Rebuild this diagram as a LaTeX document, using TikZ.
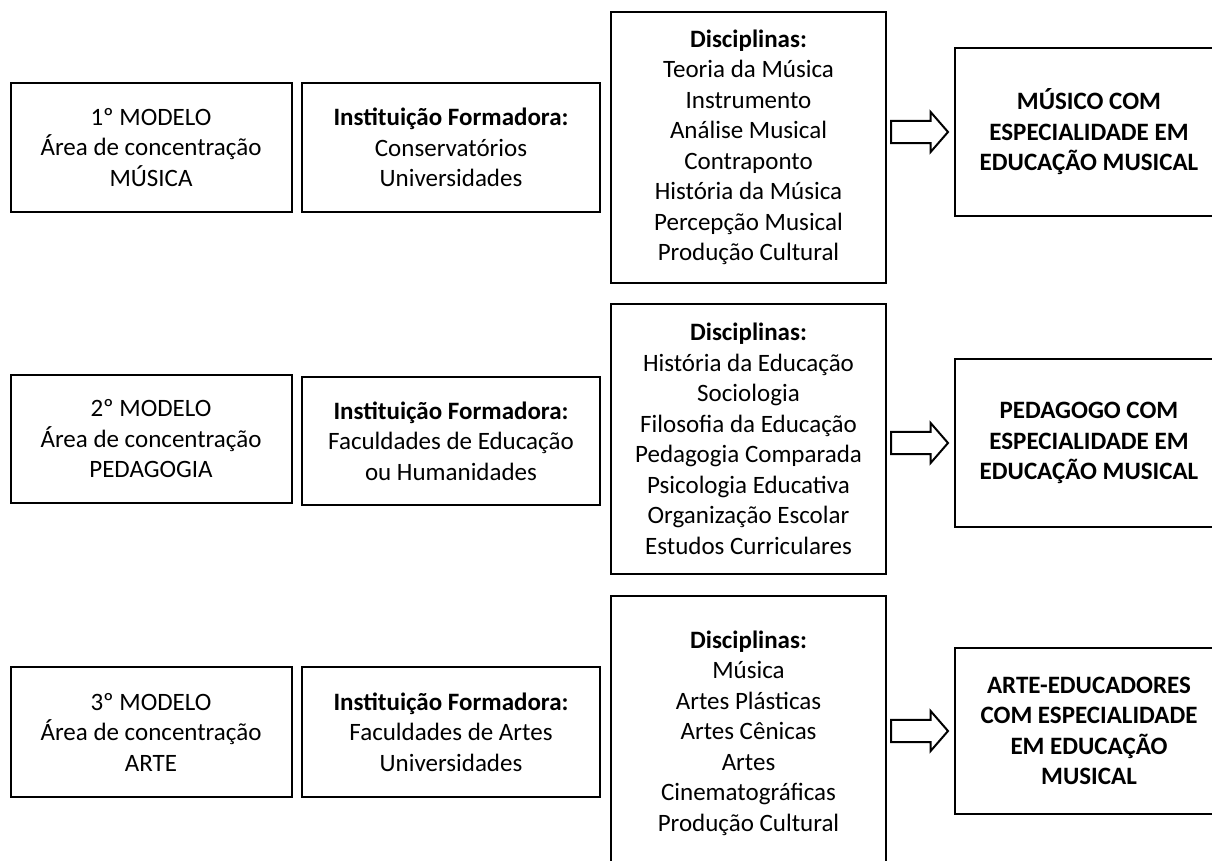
\documentclass[tikz,border=0pt]{standalone}
\usepackage{fontspec}
\setmainfont{Carlito}
\usetikzlibrary{shapes.arrows}
\tikzset{
  box/.style={draw=black, line width=2pt, rectangle, inner sep=0pt, align=center,
    font=\fontsize{25}{30.5}\selectfont},
  bigarrow/.style={draw=black, line width=2pt, single arrow, shape border rotate=0,
    minimum height=57pt, minimum width=40pt, inner xsep=0pt, inner ysep=8pt,
    single arrow tip angle=98, anchor=tail}
}
\begin{document}
\begin{tikzpicture}[x=1pt,y=-1pt]
\useasboundingbox (0,0) rectangle (1212,861);
\begin{scope}
\clip (0,0) rectangle (1212,861);
% Row 1
\node[box, minimum width=281pt, minimum height=129pt] (m1) at (151,147.5)
  {1º MODELO\\Área de concentração\\MÚSICA};
\node[box, minimum width=298.5pt, minimum height=129pt] (i1) at (451,147.5)
  {\textbf{Instituição Formadora:}\\Conservatórios\\Universidades};
\node[box, minimum width=275pt, minimum height=271pt] (d1) at (748.5,147.5)
  {\textbf{Disciplinas:}\\Teoria da Música\\Instrumento\\Análise Musical\\Contraponto\\História da Música\\Percepção Musical\\Produção Cultural};
\node[box, minimum width=268pt, minimum height=168pt] (r1) at (1089,132)
  {\textbf{MÚSICO COM}\\\textbf{ESPECIALIDADE EM}\\\textbf{EDUCAÇÃO MUSICAL}};
\node[bigarrow] (a1) at ([xshift=3pt]d1.east |- r1.west) {};
% Row 2
\node[box, minimum width=281pt, minimum height=128pt] (m2) at (151,439)
  {2º MODELO\\Área de concentração\\PEDAGOGIA};
\node[box, minimum width=298.5pt, minimum height=128pt] (i2) at (451,441)
  {\textbf{Instituição Formadora:}\\Faculdades de Educação\\ou Humanidades};
\node[box, minimum width=275pt, minimum height=270pt] (d2) at (748.5,439)
  {\textbf{Disciplinas:}\\História da Educação\\Sociologia\\Filosofia da Educação\\Pedagogia Comparada\\Psicologia Educativa\\Organização Escolar\\Estudos Curriculares};
\node[box, minimum width=268pt, minimum height=168pt] (r2) at (1089,443)
  {\textbf{PEDAGOGO COM}\\\textbf{ESPECIALIDADE EM}\\\textbf{EDUCAÇÃO MUSICAL}};
\node[bigarrow] (a2) at ([xshift=3pt]d2.east |- r2.west) {};
% Row 3
\node[box, minimum width=281pt, minimum height=130pt] (m3) at (151,732)
  {3º MODELO\\Área de concentração\\ARTE};
\node[box, minimum width=298.5pt, minimum height=130pt] (i3) at (451,732)
  {\textbf{Instituição Formadora:}\\Faculdades de Artes\\Universidades};
\node[box, minimum width=275pt, minimum height=274pt] (d3) at (748.5,733)
  {\textbf{Disciplinas:}\\Música\\Artes Plásticas\\Artes Cênicas\\Artes\\Cinematográficas\\Produção Cultural};
\node[box, minimum width=268pt, minimum height=166pt] (r3) at (1089,731)
  {\textbf{ARTE-EDUCADORES}\\\textbf{COM ESPECIALIDADE}\\\textbf{EM EDUCAÇÃO}\\\textbf{MUSICAL}};
\node[bigarrow] (a3) at ([xshift=3pt]d3.east |- r3.west) {};
\end{scope}
\end{tikzpicture}
\end{document}
